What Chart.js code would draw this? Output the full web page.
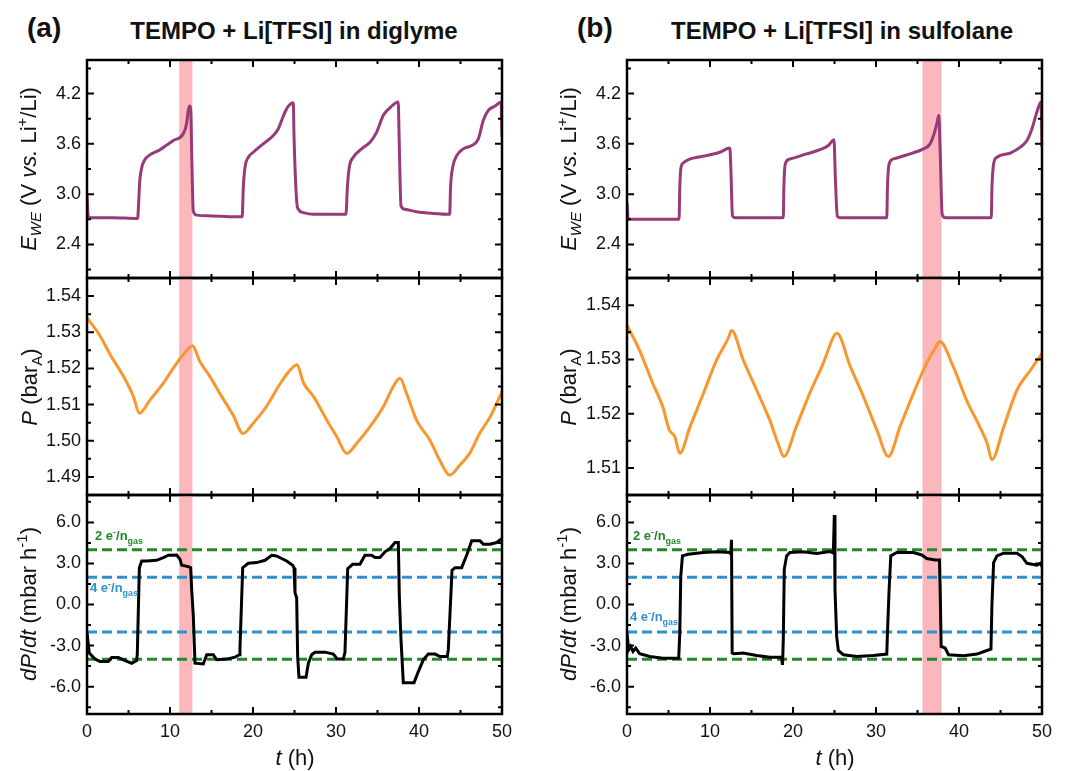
<!DOCTYPE html>
<html>
<head>
<meta charset="utf-8">
<title>TEMPO + Li[TFSI] gas evolution</title>
<script src="https://cdn.jsdelivr.net/npm/chart.js@4.4.1/dist/chart.umd.min.js"></script>
<style>
 body { margin:0; background:#fff; font-family:"Liberation Sans", Arial, sans-serif; }
 #fig { position:relative; width:1069px; height:771px; overflow:hidden; }
 #fig canvas { position:absolute; }
 .lbl { position:absolute; white-space:nowrap; color:#111; line-height:1.2; }
 .panel { font-weight:bold; font-size:28px; }
 .ttl { font-weight:bold; font-size:24px; transform:translateX(-50%); }
 .yt { font-size:22px; transform:translate(-50%,-50%) rotate(-90deg); }
 .xt { font-size:22px; transform:translate(-50%,-50%); }
 .gas { font-weight:bold; font-size:13px; }
 .green { color:#23882a; }
 .blue { color:#2f90d0; }
 sub, sup { font-size:68%; line-height:0; }
</style>
</head>
<body>
<div id="fig">
 <!--left column (a)-->
 <canvas id="a1" width="530" height="238" style="left:0;top:50px"></canvas>
 <canvas id="a2" width="530" height="237" style="left:0;top:268px"></canvas>
 <canvas id="a3" width="530" height="286" style="left:0;top:485px"></canvas>
 <!--right column (b)-->
 <canvas id="b1" width="539" height="238" style="left:530px;top:50px"></canvas>
 <canvas id="b2" width="539" height="237" style="left:530px;top:268px"></canvas>
 <canvas id="b3" width="539" height="286" style="left:530px;top:485px"></canvas>

 <div class="lbl panel" style="left:27px;top:11px">(a)</div>
 <div class="lbl panel" style="left:577px;top:11px">(b)</div>
 <div class="lbl ttl" style="left:294px;top:17px">TEMPO + Li[TFSI] in diglyme</div>
 <div class="lbl ttl" style="left:842px;top:17px">TEMPO + Li[TFSI] in sulfolane</div>

 <div class="lbl yt" style="left:29px;top:169px"><i>E</i><sub><i>WE</i></sub> (V <i>vs.</i> Li<sup>+</sup>/Li)</div>
 <div class="lbl yt" style="left:30px;top:387px"><i>P</i> (bar<sub>A</sub>)</div>
 <div class="lbl yt" style="left:29px;top:604px"><i>dP</i>/<i>dt</i> (mbar h<sup>-1</sup>)</div>
 <div class="lbl yt" style="left:569px;top:169px"><i>E</i><sub><i>WE</i></sub> (V <i>vs.</i> Li<sup>+</sup>/Li)</div>
 <div class="lbl yt" style="left:569px;top:387px"><i>P</i> (bar<sub>A</sub>)</div>
 <div class="lbl yt" style="left:569px;top:604px"><i>dP</i>/<i>dt</i> (mbar h<sup>-1</sup>)</div>
 <div class="lbl xt" style="left:295px;top:758px"><i>t</i> (h)</div>
 <div class="lbl xt" style="left:835px;top:758px"><i>t</i> (h)</div>

 <div class="lbl gas green" style="left:95px;top:528px">2 e<sup>-</sup>/n<sub>gas</sub></div>
 <div class="lbl gas blue" style="left:90px;top:580px">4 e<sup>-</sup>/n<sub>gas</sub></div>
 <div class="lbl gas green" style="left:633px;top:528px">2 e<sup>-</sup>/n<sub>gas</sub></div>
 <div class="lbl gas blue" style="left:630px;top:609px">4 e<sup>-</sup>/n<sub>gas</sub></div>
</div>

<script>
 // ---- data ----
 var tTicks = [0, 10, 20, 30, 40, 50];
 var eTicks = [2.4, 3.0, 3.6, 4.2];
 var pTicksA = [1.49, 1.50, 1.51, 1.52, 1.53, 1.54];
 var pTicksB = [1.51, 1.52, 1.53, 1.54];
 var dTicks = [-6, -3, 0, 3, 6];

 // highlighted time windows (h)
 var bandA = [11.1, 12.7];
 var bandB = [35.6, 37.9];

 // gas-evolution reference levels (mbar/h)
 var level2e = [4, -4];
 var level4e = [2, -2];

 // (a) diglyme: electrode potential
 var tE_a = [0, 0.15, 0.5, 3, 6.1, 6.2, 6.35, 6.6, 6.9, 7.2, 8.8, 10.4, 11.6, 12.0, 12.2, 12.4, 12.5, 12.65, 12.8, 13.2, 15, 18.7,
             18.83, 19.04, 19.44, 20.04, 21.24, 22.45, 23.05, 23.45, 23.86, 24.26, 24.86, 24.94, 25.26, 25.46, 26.06, 27.27, 31.2,
             31.37, 31.6, 32.09, 33.09, 34.1, 34.9, 35.7, 36.5, 37.5, 37.6, 37.83, 38.3, 39.7, 41.7, 43.7,
             43.8, 44.06, 44.54, 45.34, 46.55, 47.15, 47.75, 48.35, 49.16, 49.88, 50];
 var E_a = [3.0, 2.74, 2.72, 2.72, 2.71, 2.85, 3.15, 3.32, 3.4, 3.44, 3.53, 3.64, 3.72, 3.84, 4.0, 4.05, 4.0, 3.32, 2.80, 2.75, 2.74, 2.73,
            3.08, 3.32, 3.44, 3.5, 3.6, 3.7, 3.78, 3.88, 3.98, 4.05, 4.09, 3.7, 2.92, 2.82, 2.78, 2.76, 2.76,
            3.08, 3.32, 3.44, 3.54, 3.62, 3.74, 3.94, 4.03, 4.1, 3.7, 2.86, 2.82, 2.79, 2.77, 2.76,
            3.08, 3.32, 3.46, 3.54, 3.59, 3.66, 3.88, 4.0, 4.05, 4.1, 3.68];

 // (a) diglyme: pressure
 var tP_a = [0, 1.6, 2.8, 4.4, 5.6, 6.3, 7.6, 9.2, 10.4, 11.4, 12.2, 12.7, 13.6, 14.8, 16.0, 17.6, 18.8, 20.0, 21.6, 23.3, 24.5,
             25.3, 26.1, 27.3, 28.9, 30.1, 31.3, 32.5, 34.1, 35.7, 36.9, 37.7, 38.5, 39.7, 41.3, 42.5, 43.7, 44.9, 46.1, 47.3, 48.6, 50];
 var P_a = [1.5340, 1.5289, 1.5238, 1.5178, 1.5122, 1.5076, 1.5113, 1.5159, 1.5201, 1.5233, 1.5254, 1.5263, 1.5219, 1.5178,
            1.5131, 1.5071, 1.5020, 1.5048, 1.5094, 1.5159, 1.5196, 1.5210, 1.5159, 1.5122, 1.5057, 1.5011, 1.4965, 1.4993,
            1.5039, 1.5094, 1.5150, 1.5173, 1.5131, 1.5057, 1.5002, 1.4946, 1.4905, 1.4932, 1.4965, 1.5020, 1.5067, 1.5136];

 // (a) diglyme: dP/dt
 var tD_a = [0, 0.28, 0.96, 1.57, 2.57, 2.97, 3.78, 4.38, 5.38, 5.98,
             6.06, 6.31, 6.59, 7.19, 8.39, 9.2, 9.8, 10.8, 11.2, 11.41,
             12.21, 12.49, 12.61, 12.81, 13.01, 14.02, 14.42, 15.22, 15.62, 16.83,
             17.83, 18.35, 18.43, 18.76, 19.44, 20.44, 21.45, 22.25, 22.85, 23.45,
             24.06, 24.78, 24.94, 25.06, 25.26, 25.38, 25.54, 26.39, 26.67, 27.07,
             27.47, 28.67, 29.68, 30.16, 30.88, 31.08, 31.41, 32.01, 32.89, 33.49,
             34.3, 34.7, 35.3, 35.9, 36.51, 37.11, 37.51, 37.63, 37.83, 38.11,
             39.4, 39.92, 40.52, 41.12, 41.93, 42.53, 43.41, 43.53, 43.98, 44.34,
             45.14, 45.74, 46.35, 47.35, 47.75, 48.55, 49.36, 50];
 var D_a = [-2.08, -3.55, -3.99, -4.16, -4.16, -3.87, -3.87, -4.04, -4.29, -4.09,
            -3.6, 2.69, 3.18, 3.18, 3.23, 3.43, 3.6, 3.62, 3.31, 2.87,
            2.77, 2.69, 1.1, -0.86, -4.29, -4.34, -3.67, -3.67, -4.04, -3.99,
            -3.85, -3.67, -3.2, 2.69, 3.01, 3.06, 3.23, 3.6, 3.55, 3.36,
            3.18, 2.87, 2.69, 0.86, 0.49, -3.8, -5.31, -5.31, -4.29, -3.67,
            -3.48, -3.48, -3.62, -3.99, -3.99, -3.5, 2.62, 2.94, 2.94, 3.6,
            3.6, 3.43, 3.43, 3.85, 4.09, 4.53, 4.53, 0.61, -2.57, -5.71,
            -5.71, -4.9, -4.04, -3.62, -3.62, -3.8, -3.8, -3.3, 2.5, 2.69,
            2.69, 3.6, 4.65, 4.65, 4.41, 4.41, 4.53, 4.82];

 // (b) sulfolane: electrode potential
 var tE_b = [0, 0.16, 3, 6.27, 6.36, 6.48, 6.76, 7.36, 9.57, 11.18, 12.39, 12.51, 12.71, 13.0, 18.83,
             18.9, 19.07, 19.63, 21.64, 23.25, 24.26, 24.94, 25.1, 25.34, 25.66, 31.3,
             31.38, 31.58, 32.1, 34.1, 35.72, 36.52, 37.0, 37.33, 37.57, 37.73, 37.97, 38.33, 43.89,
             43.97, 44.17, 44.57, 46.18, 47.39, 48.19, 48.79, 49.32, 49.88, 50];
 var E_b = [2.9, 2.7, 2.7, 2.7, 3.08, 3.3, 3.37, 3.41, 3.46, 3.5, 3.55, 3.32, 2.74, 2.72, 2.72,
            3.08, 3.36, 3.42, 3.48, 3.53, 3.58, 3.65, 3.2, 2.74, 2.72, 2.72,
            3.08, 3.36, 3.42, 3.48, 3.54, 3.6, 3.72, 3.84, 3.94, 3.52, 2.76, 2.72, 2.72,
            3.08, 3.36, 3.44, 3.49, 3.56, 3.64, 3.78, 3.96, 4.1, 3.56];

 // (b) sulfolane: pressure
 var tP_b = [0, 1.5, 3.1, 4.3, 5.1, 5.75, 6.35, 7.6, 9.2, 10.8, 12.2, 12.6, 14.0, 15.6, 17.2, 18.2, 18.9, 20.4, 22.0, 23.65,
             24.9, 25.3, 26.9, 28.5, 30.1, 31.5, 32.9, 34.5, 36.1, 37.1, 37.7, 39.3, 40.9, 42.5, 43.4, 43.95, 45.4, 47.0, 48.6, 50];
 var P_b = [1.5363, 1.5317, 1.5256, 1.5213, 1.5170, 1.5158, 1.5127, 1.5176, 1.5237, 1.5299, 1.5339, 1.5353, 1.5299, 1.5244,
            1.5188, 1.5145, 1.5121, 1.5176, 1.5237, 1.5293, 1.5342, 1.5348, 1.5287, 1.5231, 1.5170, 1.5121, 1.5176, 1.5237,
            1.5293, 1.5320, 1.5333, 1.5287, 1.5225, 1.5176, 1.5145, 1.5115, 1.5176, 1.5244, 1.5280, 1.5311];

 // (b) sulfolane: dP/dt
 var tD_b = [0, 0.2, 0.44, 0.72, 1.05, 1.53, 2.74, 4.34, 6.23, 6.36,
             6.48, 6.68, 7.36, 9.17, 10.78, 12.39, 12.51, 12.59, 12.67, 12.87,
             14.0, 15.61, 17.22, 18.62, 18.74, 18.83, 18.95, 19.23, 19.63, 21.24,
             22.85, 24.46, 24.86, 24.98, 25.06, 25.26, 25.46, 26.07, 27.68, 29.69,
             31.3, 31.38, 31.58, 31.78, 32.5, 34.51, 35.52, 36.12, 37.13, 37.65,
             37.73, 37.85, 38.33, 38.74, 40.55, 42.16, 43.36, 43.85, 43.97, 44.17,
             44.57, 45.37, 46.98, 47.59, 48.19, 49.4, 49.8, 50];
 var D_b = [-2.08, -3.31, -3.06, -3.43, -3.18, -3.6, -3.8, -3.92, -3.92, -2.08,
            2.08, 3.55, 3.67, 3.8, 3.85, 3.8, 3.68, 4.73, -3.55, -3.6,
            -3.55, -3.72, -3.85, -3.85, -4.41, -2.57, 2.57, 3.55, 3.8, 3.85,
            3.72, 3.87, 3.75, 6.54, 1.1, -2.33, -3.36, -3.67, -3.8, -3.72,
            -3.62, -2.08, 1.1, 3.55, 3.8, 3.8, 3.62, 3.36, 3.26, 3.26,
            1.1, -3.06, -3.18, -3.67, -3.75, -3.62, -3.36, -3.26, 0.0, 3.06,
            3.55, 3.75, 3.75, 3.5, 3.01, 2.87, 3.01, 2.77];

 // ---- styling ----
 var FONT = 'Liberation Sans, Arial, Helvetica, sans-serif';
 var PURPLE = '#983a79', ORANGE = '#f8962f', GREEN = '#23882a', BLUE = '#2f90d0', BAND = '#fcb7bd';

 function pts(xs, ys) { return xs.map(function (x, i) { return {x: x, y: ys[i]}; }); }
 function hline(v) { return [{x: tTicks[0], y: v}, {x: tTicks[tTicks.length - 1], y: v}]; }

 // frame with inward ticks on all four sides + highlight band
 var frame = {
  id: 'frame',
  beforeDatasetsDraw: function (chart, args, o) {
   if (!o.band) return;
   var ctx = chart.ctx, a = chart.chartArea, x = chart.scales.x;
   var x0 = x.getPixelForValue(o.band[0]), x1 = x.getPixelForValue(o.band[1]);
   ctx.save();
   ctx.fillStyle = BAND;
   ctx.fillRect(x0, a.top, x1 - x0, a.bottom - a.top);
   ctx.restore();
  },
  afterDraw: function (chart) {
   var ctx = chart.ctx, a = chart.chartArea, x = chart.scales.x, y = chart.scales.y;
   function marks(sc) {
    var v = sc.ticks.map(function (t) { return t.value; });
    var step = v[1] - v[0], out = [];
    v.forEach(function (t) { out.push([t, 7]); });
    for (var k = -1; k < v.length; k++) {
     var m = v[0] + step * (k + 0.5);
     if (m > sc.min + 1e-9 && m < sc.max - 1e-9) out.push([m, 4]);
    }
    return out;
   }
   ctx.save();
   ctx.strokeStyle = '#000';
   ctx.lineWidth = 2;
   ctx.beginPath();
   marks(x).forEach(function (m) {
    var p = x.getPixelForValue(m[0]);
    ctx.moveTo(p, a.bottom); ctx.lineTo(p, a.bottom - m[1]);
    ctx.moveTo(p, a.top); ctx.lineTo(p, a.top + m[1]);
   });
   marks(y).forEach(function (m) {
    var p = y.getPixelForValue(m[0]);
    ctx.moveTo(a.left, p); ctx.lineTo(a.left + m[1], p);
    ctx.moveTo(a.right, p); ctx.lineTo(a.right - m[1], p);
   });
   ctx.stroke();
   ctx.lineWidth = 2.5;
   ctx.strokeRect(a.left, a.top, a.right - a.left, a.bottom - a.top);
   ctx.restore();
  }
 };

 function scaleX(show) {
  return {
   type: 'linear', min: 0, max: 50, display: show,
   grid: {display: false, drawTicks: false}, border: {display: false},
   ticks: {font: {family: FONT, size: 18}, color: '#111', padding: 7, maxRotation: 0,
           callback: function (v) { return String(v); }},
   afterBuildTicks: function (s) { s.ticks = tTicks.map(function (v) { return {value: v}; }); },
   afterFit: function (s) { s.height = show ? 57 : 0; s.paddingLeft = 0; s.paddingRight = 0; }
  };
 }

 function scaleY(min, max, ticks, dec, w) {
  return {
   type: 'linear', min: min, max: max, position: 'left',
   grid: {display: false, drawTicks: false}, border: {display: false},
   ticks: {font: {family: FONT, size: 18}, color: '#111', padding: 6,
           callback: function (v) { return Number(v).toFixed(dec); }},
   afterBuildTicks: function (s) { s.ticks = ticks.map(function (v) { return {value: v}; }); },
   afterFit: function (s) { s.width = w; s.paddingTop = 0; s.paddingBottom = 0; }
  };
 }

 function curve(data, color, smooth) {
  var d = {data: data, borderColor: color, borderWidth: 3, pointRadius: 0, fill: false};
  if (smooth) d.cubicInterpolationMode = 'monotone'; else d.tension = 0;
  return d;
 }
 function dashed(v, color) {
  return {data: hline(v), borderColor: color, borderWidth: 3, borderDash: [10, 5], pointRadius: 0, fill: false};
 }

 function panel(id, datasets, yScale, showX, band, rightPad) {
  return new Chart(document.getElementById(id), {
   type: 'line',
   data: {datasets: datasets},
   options: {
    responsive: false, animation: false, events: [],
    layout: {padding: {top: 10, bottom: showX ? 0 : 10, left: 0, right: rightPad}},
    plugins: {legend: {display: false}, tooltip: {enabled: false}, frame: {band: band}},
    scales: {x: scaleX(showX), y: yScale}
   },
   plugins: [frame]
  });
 }

 function rateSets(t, d) {
  return [curve(pts(t, d), '#000', false),
          dashed(level2e[0], GREEN), dashed(level2e[1], GREEN),
          dashed(level4e[0], BLUE), dashed(level4e[1], BLUE)];
 }

 // left column: y axis 87 px wide, plot right edge at 502
 panel('a1', [curve(pts(tE_a, E_a), PURPLE, true)], scaleY(2.0, 4.6, eTicks, 1, 87), false, bandA, 28);
 panel('a2', [curve(pts(tP_a, P_a), ORANGE, true)], scaleY(1.485, 1.545, pTicksA, 2, 87), false, bandA, 28);
 panel('a3', rateSets(tD_a, D_a), scaleY(-8, 8, dTicks, 1, 87), true, bandA, 28);

 // right column: y axis 97 px wide
 panel('b1', [curve(pts(tE_b, E_b), PURPLE, true)], scaleY(2.0, 4.6, eTicks, 1, 97), false, bandB, 27);
 panel('b2', [curve(pts(tP_b, P_b), ORANGE, true)], scaleY(1.505, 1.545, pTicksB, 2, 97), false, bandB, 27);
 panel('b3', rateSets(tD_b, D_b), scaleY(-8, 8, dTicks, 1, 97), true, bandB, 27);
</script>
</body>
</html>
